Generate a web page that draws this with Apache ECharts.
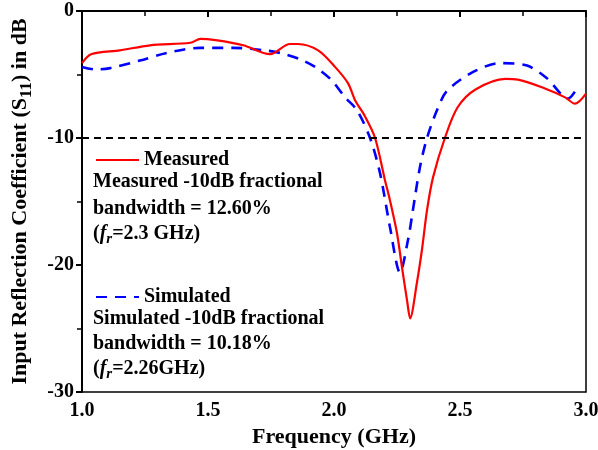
<!DOCTYPE html>
<html>
	<head>
		<meta charset="utf-8" />
		<title>S11</title>
		<script src="https://cdn.jsdelivr.net/npm/echarts@6/dist/echarts.min.js"></script>
	</head>
	<body style="margin:0;background:#fff;">
		<div id="chart" style="width:598px;height:450px;"></div>
	</body>
	<script type="text/javascript">

	// measured S11 (GHz, dB)
	var measFreq = [1.0, 1.036, 1.15, 1.27, 1.43, 1.47, 1.53, 1.64, 1.746, 1.825, 1.857, 1.937, 2.004, 2.056, 2.083, 2.123, 2.163, 2.202, 2.222, 2.25, 2.27, 2.29, 2.302, 2.329, 2.349, 2.369, 2.393, 2.44, 2.49, 2.56, 2.68, 2.73, 2.837, 2.917, 2.956, 3.0];
	var measDb   = [-4.1, -3.4, -3.1, -2.7, -2.5, -2.2, -2.3, -2.7, -3.4, -2.6, -2.6, -3.1, -4.4, -5.7, -7.0, -8.3, -10, -13.3, -14.9, -17.5, -20.2, -22.8, -24.2, -21.4, -18.8, -15.7, -13.1, -10, -7.6, -6.2, -5.35, -5.4, -6.1, -6.8, -7.3, -6.5];
	// simulated S11
	var simFreq = [1.0, 1.052, 1.111, 1.23, 1.337, 1.468, 1.6, 1.726, 1.786, 1.865, 1.925, 1.988, 2.044, 2.091, 2.143, 2.183, 2.222, 2.262, 2.294, 2.313, 2.341, 2.369, 2.409, 2.448, 2.552, 2.659, 2.766, 2.845, 2.929, 2.964];
	var simDb   = [-4.4, -4.6, -4.5, -3.9, -3.3, -2.9, -2.9, -3.1, -3.3, -3.8, -4.4, -5.4, -6.8, -7.8, -10, -12.8, -17.0, -20.6, -18.0, -15.7, -12.3, -10, -7.8, -6.3, -4.8, -4.1, -4.3, -5.3, -6.9, -6.1];
	var refLevel = -10;

	function pairs(xs, ys){
		var out = [];
		for (var i = 0; i < xs.length; i++) out.push([xs[i], ys[i]]);
		return out;
	}

	var font = 'Liberation Serif';
	var fs = 20;
	var txtFont = 'bold ' + fs + 'px "Liberation Serif"';
	var rich = {
		b: {fontFamily: font, fontWeight: 'bold', fontSize: fs, color: '#000'},
		f: {fontFamily: font, fontWeight: 'bold', fontStyle: 'italic', fontSize: fs, color: '#000'},
		r: {fontFamily: font, fontWeight: 'bold', fontStyle: 'italic', fontSize: 15, color: '#000', verticalAlign: 'bottom', padding: [10, 0, 0, 0]}
	};
	var legendText = {fontFamily: font, fontWeight: 'bold', fontSize: fs, color: '#000'};

	var myChart = echarts.init(document.getElementById('chart'));
	var option = {
		backgroundColor: '#fff',
		animation: false,
		grid: {
			left: 82, right: 12, top: 11, bottom: 58,
			outerBoundsMode: 'none', containLabel: false,
			show: true, borderColor: '#000', borderWidth: 1.5
		},
		legend: [
			{
				data: ['Measured'], left: 90, top: 145, itemWidth: 43, itemHeight: 10, itemGap: 8,
				itemStyle: {color: 'transparent', borderWidth: 0},
				textStyle: legendText
			},
			{
				data: ['Simulated'], left: 90, top: 282, itemWidth: 43, itemHeight: 10, itemGap: 8,
				itemStyle: {color: 'transparent', borderWidth: 0},
				textStyle: legendText
			}
		],
		xAxis: {
			type: 'value', min: 1, max: 3, interval: 0.5,
			name: 'Frequency (GHz)', nameLocation: 'middle', nameGap: 34,
			nameTextStyle: {fontFamily: font, fontWeight: 'bold', fontSize: 22, color: '#000'},
			axisLine: {lineStyle: {color: '#000', width: 2}},
			axisTick: {inside: false, length: 6, lineStyle: {color: '#000', width: 2}},
			minorTick: {show: true, splitNumber: 2, length: 5, lineStyle: {color: '#000', width: 1.5}},
			axisLabel: {fontFamily: font, fontWeight: 'bold', fontSize: 20, color: '#000', margin: 9,
				formatter: function(v){ return v.toFixed(1); }},
			splitLine: {show: false}
		},
		yAxis: {
			type: 'value', min: -30, max: 0, interval: 10,
			name: '{t|Input Reflection Coefficient (S}{s|11}{t|) in dB}',
			nameLocation: 'middle', nameGap: 47, nameRotate: 90,
			nameTextStyle: {
				rich: {
					t: {fontFamily: font, fontWeight: 'bold', fontSize: 22, color: '#000'},
					s: {fontFamily: font, fontWeight: 'bold', fontSize: 17, color: '#000', verticalAlign: 'bottom', padding: [12, 0, 0, 0]}
				}
			},
			axisLine: {show: true, lineStyle: {color: '#000', width: 2}},
			axisTick: {show: true, inside: false, length: 6, lineStyle: {color: '#000', width: 2}},
			minorTick: {show: true, splitNumber: 2, length: 5, lineStyle: {color: '#000', width: 1.5}},
			axisLabel: {fontFamily: font, fontWeight: 'bold', fontSize: 20, color: '#000', margin: 8},
			splitLine: {show: false}
		},
		graphic: [
			{type: 'text', left: 93, top: 172, style: {text: 'Measured -10dB fractional', font: txtFont, fill: '#000'}},
			{type: 'text', left: 93, top: 199, style: {text: 'bandwidth = 12.60%', font: txtFont, fill: '#000'}},
			{type: 'text', left: 93, top: 224, style: {text: '{b|(}{f|f}{r|r}{b|=2.3 GHz)}', rich: rich}},
			{type: 'text', left: 93, top: 309, style: {text: 'Simulated -10dB fractional', font: txtFont, fill: '#000'}},
			{type: 'text', left: 93, top: 334, style: {text: 'bandwidth = 10.18%', font: txtFont, fill: '#000'}},
			{type: 'text', left: 93, top: 359, style: {text: '{b|(}{f|f}{r|r}{b|=2.26GHz)}', rich: rich}}
		],
		series: [
			{
				name: 'Measured', type: 'line', symbol: 'none', smooth: 0.3,
				lineStyle: {color: '#ff0000', width: 2.2},
				itemStyle: {color: '#ff0000'},
				data: pairs(measFreq, measDb),
				markLine: {
					silent: true, symbol: ['none', 'none'], label: {show: false},
					lineStyle: {color: '#000', type: [7, 5], width: 2.2},
					data: [{yAxis: refLevel}]
				},
				z: 3
			},
			{
				name: 'Simulated', type: 'line', symbol: 'none', smooth: 0.3,
				lineStyle: {color: '#0000ff', width: 2.6, type: [11, 8]},
				itemStyle: {color: '#0000ff'},
				data: pairs(simFreq, simDb),
				z: 2
			}
		]
	};
	myChart.setOption(option);

	</script>
</html>
